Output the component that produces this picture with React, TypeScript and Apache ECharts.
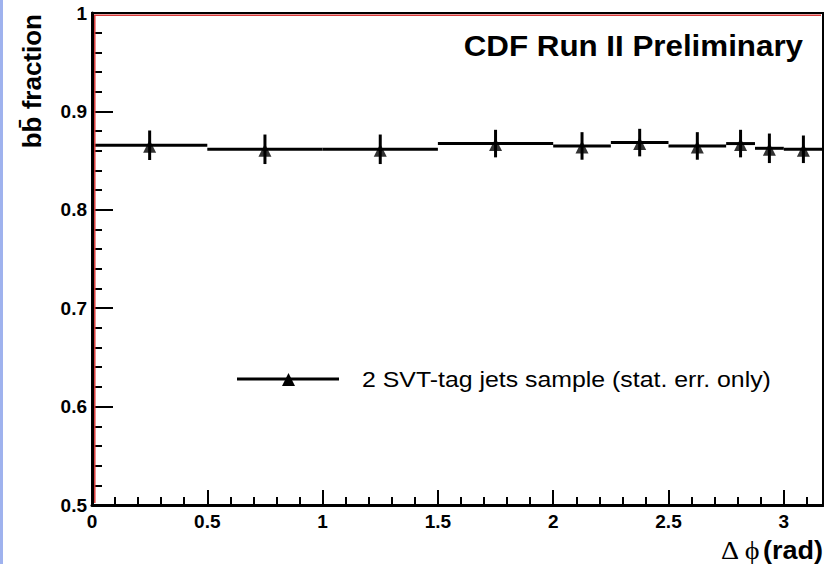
import React, { useEffect, useRef } from "react";
import * as echarts from "echarts";

// Δφ bins (rad)
const binLow = [0, 0.5, 1.0, 1.5, 2.0, 2.25, 2.5, 2.75, 2.875, 3.0];
const binHigh = [0.5, 1.0, 1.5, 2.0, 2.25, 2.5, 2.75, 2.875, 3.0, 3.17];
const binCenter = [0.25, 0.75, 1.25, 1.75, 2.125, 2.375, 2.625, 2.8125, 2.9375, 3.085];
// bb̄ fraction and statistical error
const fraction = [0.8656, 0.8615, 0.8615, 0.8673, 0.8649, 0.8683, 0.8649, 0.8673, 0.8625, 0.8615];
const statError = [0.015, 0.015, 0.015, 0.014, 0.014, 0.014, 0.014, 0.014, 0.015, 0.014];

const xMajorTicks = [0, 0.5, 1, 1.5, 2, 2.5, 3];
const xMinorTicks = [
  0.1, 0.2, 0.3, 0.4, 0.6, 0.7, 0.8, 0.9, 1.1, 1.2, 1.3, 1.4, 1.6, 1.7, 1.8, 1.9,
  2.1, 2.2, 2.3, 2.4, 2.6, 2.7, 2.8, 2.9, 3.1,
];

const titleText = "CDF Run II Preliminary";
const legendText = "2 SVT-tag jets sample (stat. err. only)";
const yTitle = "bb\u0304 fraction";

export default function App() {
  const ref = useRef<HTMLDivElement>(null);
  useEffect(() => {
    if (!ref.current) return;
    const chart = echarts.init(ref.current, null, { renderer: "svg" });
    const font = "'Liberation Sans', Arial, Helvetica, sans-serif";
    const option: any = {
      animation: false,
      backgroundColor: "#fff",
      grid: {
        left: 92,
        right: 1,
        top: 13,
        bottom: 59,
        show: true,
        borderColor: "#000",
        borderWidth: 2,
        backgroundColor: "transparent",
      },
      xAxis: [
        {
          type: "value",
          min: 0,
          max: 3.17,
          position: "bottom",
          axisLine: { show: true, onZero: false, lineStyle: { color: "#000", width: 3 } },
          axisTick: {
            show: true,
            inside: true,
            length: 15,
            customValues: xMajorTicks,
            lineStyle: { color: "#000", width: 2 },
          },
          axisLabel: {
            customValues: xMajorTicks,
            color: "#000",
            fontWeight: "bold",
            fontSize: 19,
            fontFamily: font,
            margin: 7,
          },
          splitLine: { show: false },
        },
        {
          type: "value",
          min: 0,
          max: 3.17,
          position: "bottom",
          axisLine: { show: false, onZero: false },
          axisTick: {
            show: true,
            inside: true,
            length: 8,
            customValues: xMinorTicks,
            lineStyle: { color: "#000", width: 2 },
          },
          axisLabel: { show: false },
          splitLine: { show: false },
        },
      ],
      yAxis: {
        type: "value",
        min: 0.5,
        max: 1,
        interval: 0.1,
        axisLine: { show: true, onZero: false, lineStyle: { color: "#000", width: 3 } },
        axisTick: { show: true, inside: true, length: 21, lineStyle: { color: "#000", width: 2 } },
        minorTick: { show: true, splitNumber: 5, length: 10, lineStyle: { color: "#000", width: 2 } },
        axisLabel: {
          color: "#000",
          fontWeight: "bold",
          fontSize: 19,
          fontFamily: font,
          margin: 5,
        },
        splitLine: { show: false },
        minorSplitLine: { show: false },
      },
      series: [
        {
          type: "custom",
          xAxisIndex: 0,
          encode: { x: [0, 1, 2], y: [3] },
          data: binLow.map((lo, i) => [lo, binHigh[i], binCenter[i], fraction[i], statError[i]]),
          renderItem: (params: any, api: any) => {
            const lo = api.value(0);
            const hi = api.value(1);
            const c = api.value(2);
            const y = api.value(3);
            const e = api.value(4);
            const p1 = api.coord([lo, y]);
            const p2 = api.coord([hi, y]);
            const t = api.coord([c, y + e]);
            const b = api.coord([c, y - e]);
            return {
              type: "group",
              children: [
                {
                  type: "line",
                  shape: { x1: p1[0], y1: p1[1], x2: p2[0], y2: p2[1] },
                  style: { stroke: "#000", lineWidth: 3 },
                },
                {
                  type: "line",
                  shape: { x1: t[0], y1: t[1], x2: b[0], y2: b[1] },
                  style: { stroke: "#000", lineWidth: 3 },
                },
              ],
            };
          },
          z: 3,
        },
        {
          type: "scatter",
          xAxisIndex: 0,
          data: binCenter.map((c, i) => [c, fraction[i]]),
          symbol: "triangle",
          symbolSize: [13, 13],
          symbolOffset: [0, 1],
          itemStyle: { color: "#000" },
          z: 4,
        },
      ],
      graphic: [
        { type: "rect", left: 0, top: 0, shape: { x: 0, y: 0, width: 3, height: 564 }, style: { fill: "#9fb2ee" } },
        { type: "line", shape: { x1: 94, y1: 15.2, x2: 821, y2: 15.2 }, style: { stroke: "#d83a3a", lineWidth: 1.5 }, z: 10 },
        { type: "line", shape: { x1: 94.8, y1: 15, x2: 94.8, y2: 503 }, style: { stroke: "#d83a3a", lineWidth: 1.5 }, z: 10 },
        {
          type: "text",
          x: 803,
          y: 46,
          scaleX: 1.08,
          style: {
            text: titleText,
            fill: "#000",
            font: `bold 29px ${font}`,
            align: "right",
            verticalAlign: "middle",
          },
        },
        { type: "line", shape: { x1: 237, y1: 379, x2: 339, y2: 379 }, style: { stroke: "#000", lineWidth: 3 } },
        {
          type: "polygon",
          shape: { points: [[282, 386], [295, 386], [288.5, 373]] },
          style: { fill: "#000" },
        },
        {
          type: "text",
          x: 362,
          y: 380,
          scaleX: 1.13,
          style: {
            text: legendText,
            fill: "#000",
            font: `22px ${font}`,
            align: "left",
            verticalAlign: "middle",
          },
        },
        {
          type: "text",
          x: 823,
          y: 550,
          scaleX: 1.08,
          style: {
            text: "{g|\u0394 \u03d5} {b|(rad)}",
            align: "right",
            verticalAlign: "middle",
            rich: {
              g: { fontFamily: "'Liberation Serif', 'DejaVu Serif', serif", fontSize: 26, fill: "#000" },
              b: { fontFamily: font, fontSize: 25, fontWeight: "bold", fill: "#000" },
            },
          },
        },
        {
          type: "text",
          x: 32,
          y: 14,
          rotation: Math.PI / 2,
          style: {
            text: yTitle,
            fill: "#000",
            font: `bold 26px ${font}`,
            align: "right",
            verticalAlign: "middle",
          },
        },
      ],
    };
    chart.setOption(option);
    return () => chart.dispose();
  }, []);
  return (
    <div
      ref={ref}
      style={{ position: "fixed", left: 0, top: 0, width: 824, height: 564 }}
    />
  );
}
